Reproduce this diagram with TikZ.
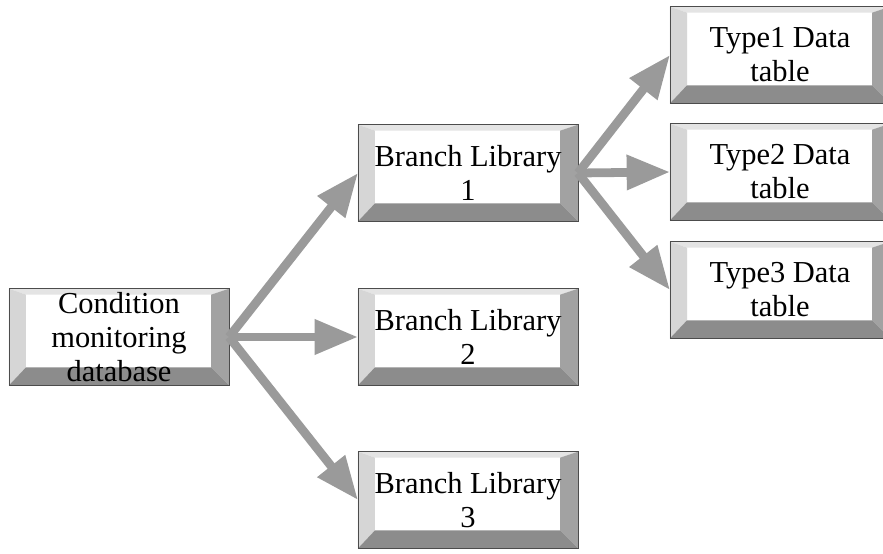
\documentclass[tikz,border=0pt]{standalone}
\usepackage{fontspec}
\setmainfont{Liberation Serif}
\usetikzlibrary{arrows.meta,calc}

\definecolor{bevtop}{HTML}{E4E4E4}
\definecolor{bevleft}{HTML}{D6D6D6}
\definecolor{bevright}{HTML}{A2A2A2}
\definecolor{bevbottom}{HTML}{8C8C8C}
\definecolor{arrowgray}{HTML}{9A9A9A}

% bevel depths (left, right, top, bottom)
\def\lb{0.51cm}
\def\rb{0.54cm}
\def\tb{0.18cm}
\def\bb{0.54cm}

\tikzset{
  bevelbox/.style={
    draw=black!70, line width=0.6pt, fill=white,
    minimum width=6.6cm, minimum height=2.9cm,
    inner sep=0pt, outer sep=0pt, align=center,
    font=\fontsize{26}{29}\selectfont,
    path picture={
      \coordinate (sw) at (path picture bounding box.south west);
      \coordinate (ne) at (path picture bounding box.north east);
      \coordinate (nw) at (sw|-ne);
      \coordinate (se) at (ne|-sw);
      % four bevel faces
      \fill[bevtop] (nw) -- (ne) -- ($(ne)+(-\rb,-\tb)$) -- ($(nw)+(\lb,-\tb)$) -- cycle;
      \fill[bevleft] (nw) -- ($(nw)+(\lb,-\tb)$) -- ($(sw)+(\lb,\bb)$) -- (sw) -- cycle;
      \fill[bevright] (ne) -- ($(ne)+(-\rb,-\tb)$) -- ($(se)+(-\rb,\bb)$) -- (se) -- cycle;
      \fill[bevbottom] (sw) -- ($(sw)+(\lb,\bb)$) -- ($(se)+(-\rb,\bb)$) -- (se) -- cycle;
    }
  },
  flow/.style={arrowgray, line width=7.5pt,
    -{Triangle[length=1.3cm,width=1.0cm]}}
}

\begin{document}
\begin{tikzpicture}[x=0.03cm, y=-0.03cm]

  \useasboundingbox (0,0) rectangle (883,554);

  % database and branch libraries
  \node[bevelbox] (db) at (119,337) {Condition\\monitoring\\database};
  \node[bevelbox] (br1) at (468,173) {Branch Library\\1};
  \node[bevelbox] (br2) at (468,337) {Branch Library\\2};
  \node[bevelbox] (br3) at (468,500) {Branch Library\\3};

  % data tables (cut off at the right edge)
  \node[bevelbox] (tb1) at (780,55) {Type1 Data\\table};
  \node[bevelbox] (tb2) at (780,172) {Type2 Data\\table};
  \node[bevelbox] (tb3) at (780,290) {Type3 Data\\table};

  % connectors
  \draw[flow] (db.east) -- (br1.west);
  \draw[flow] (db.east) -- (br2.west);
  \draw[flow] (db.east) -- (br3.west);

  \draw[flow] (br1.east) -- (tb1.west);
  \draw[flow] (br1.east) -- (tb2.west);
  \draw[flow] (br1.east) -- (tb3.west);

\end{tikzpicture}
\end{document}
